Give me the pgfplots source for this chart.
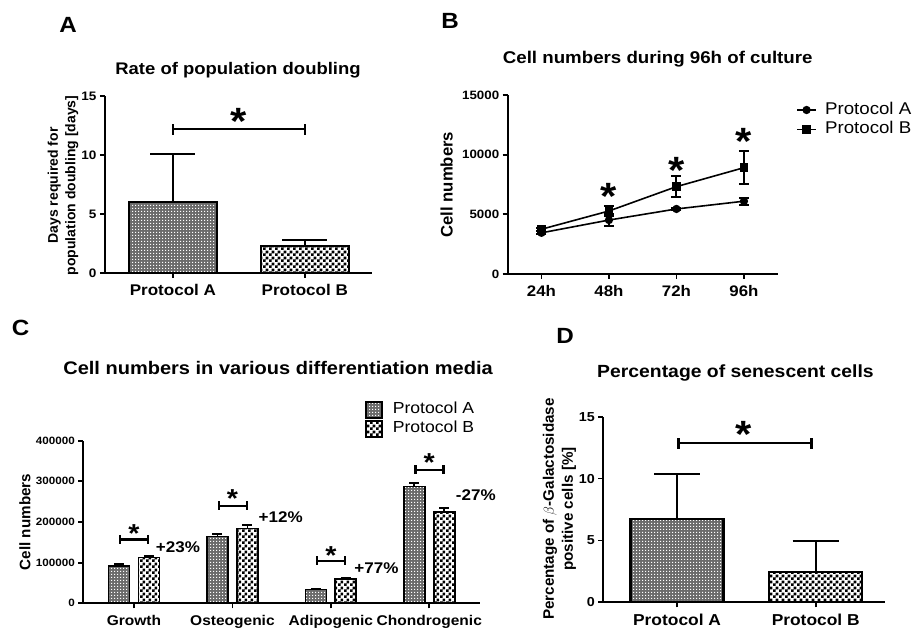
\documentclass[border=0pt]{standalone}
\usepackage{fontspec}
\setmainfont{Liberation Sans}[FakeStretch=1.1]
\newfontfamily\rotfont{Liberation Sans}
\usepackage{pgfplots}
\pgfplotsset{compat=1.18}
\usetikzlibrary{patterns}

\pgfdeclarepatternformonly{patA}{\pgfpointorigin}{\pgfpoint{3pt}{3pt}}{\pgfpoint{3pt}{3pt}}{%
  \pgfpathrectangle{\pgfpointorigin}{\pgfpoint{1.4pt}{1.4pt}}\pgfusepath{fill}}
\pgfdeclarepatternformonly{patB}{\pgfpointorigin}{\pgfpoint{5.6pt}{5.6pt}}{\pgfpoint{5.6pt}{5.6pt}}{%
  \pgfpathrectangle{\pgfpointorigin}{\pgfpoint{2.8pt}{2.8pt}}%
  \pgfpathrectangle{\pgfpoint{2.8pt}{2.8pt}}{\pgfpoint{2.8pt}{2.8pt}}\pgfusepath{fill}}

\pgfplotsset{
  gp/.style={scale only axis, anchor=south west,
    axis x line*=bottom, axis y line*=left,
    tick align=outside, major tick length=5pt, minor tick num=0,
    axis line style={line width=1.8pt, black},
    tick style={line width=1.8pt, black},
    clip=false, xticklabel shift=3pt,
    /pgf/number format/assume math mode=true,
    scaled y ticks=false,
    yticklabel style={/pgf/number format/fixed, /pgf/number format/1000 sep={}},
  },
  barA/.style={ybar, bar shift=0pt, draw=black, line width=#1, fill=black!58,
    postaction={pattern=patA, pattern color=white}},
  barB/.style={ybar, bar shift=0pt, draw=black, line width=#1, fill=white,
    postaction={pattern=patB, pattern color=black}},
  errp/.style 2 args={error bars/.cd, y dir=plus, y explicit,
    error bar style={line width=#1, black}, error mark=|,
    error mark options={line width=#1, mark size=#2, black}, /pgfplots/.cd},
  errb/.style 2 args={error bars/.cd, y dir=both, y explicit,
    error bar style={line width=#1, black}, error mark=|,
    error mark options={line width=#1, mark size=#2, black}, /pgfplots/.cd},
}
\tikzset{
  bigstar/.style={font=\bfseries\fontsize{38}{38}\selectfont, anchor=base, inner sep=0pt, yshift=-21.5pt},
  smallstar/.style={font=\bfseries\fontsize{26}{26}\selectfont, anchor=base, inner sep=0pt, yshift=-14.8pt},
  brk/.style={line width=2.2pt},
  pct/.style={anchor=west, inner sep=0pt, font=\bfseries\fontsize{15.5}{18}\selectfont},
}

\begin{document}
\begin{tikzpicture}[x=1pt,y=1pt]
\useasboundingbox (0,0) rectangle (919,632);

% panel letters
\node[font=\bfseries\fontsize{22}{22}\selectfont, anchor=base] at (68,599.7) {A};
\node[font=\bfseries\fontsize{22}{22}\selectfont, anchor=base] at (450,603.7) {B};
\node[font=\bfseries\fontsize{22}{22}\selectfont, anchor=base] at (20.5,296) {C};
\node[font=\bfseries\fontsize{22}{22}\selectfont, anchor=base] at (565,288.7) {D};

% titles
\node[font=\bfseries\fontsize{16.8}{20}\selectfont, anchor=base] at (238,557) {Rate of population doubling};
\node[font=\bfseries\fontsize{17}{20}\selectfont, anchor=base] at (657.7,568.7) {Cell numbers during 96h of culture};
\node[font=\bfseries\fontsize{18.2}{21}\selectfont, anchor=base] at (278,257) {Cell numbers in various differentiation media};
\node[font=\bfseries\fontsize{17.6}{21}\selectfont, anchor=base] at (735.5,254.7) {Percentage of senescent cells};

% y labels
\node[rotate=90, align=center, font=\rotfont\bfseries\fontsize{14}{17.6}\selectfont] at (63,446.5) {Days required for\\population doubling [days]};
\node[rotate=90, font=\rotfont\bfseries\fontsize{16.7}{20}\selectfont] at (446.7,447.3) {Cell numbers};
\node[rotate=90, font=\rotfont\bfseries\fontsize{15.2}{18}\selectfont] at (25,110) {Cell numbers};
\node[rotate=90, align=center, font=\rotfont\bfseries\fontsize{15.2}{19}\selectfont] at (559.5,123) {Percentage of $\beta$-Galactosidase\\positive cells [\%]};

% ---------------- Panel A ----------------
\begin{axis}[gp, at={(105pt,359pt)}, width=267pt, height=177pt,
  xmin=-0.515, xmax=1.51, ymin=0, ymax=15,
  ytick={0,5,10,15}, xtick={0,1}, xticklabels={Protocol A, Protocol B},
  xticklabel style={font=\bfseries\fontsize{15.5}{18}\selectfont},
  yticklabel style={font=\bfseries\fontsize{12.3}{14}\selectfont}]
\addplot[barA=2.4pt, bar width=0.667, errp={2.2pt}{22.5pt}]
  coordinates {(0,6.0) +- (0,4.1)};
\addplot[barB=2.4pt, bar width=0.667, errp={2.2pt}{22.5pt}]
  coordinates {(1,2.3) +- (0,0.5)};
\draw[brk] (axis cs:0,12.2) -- (axis cs:1,12.2);
\draw[brk] (axis cs:0,12.2) ++(0pt,5pt) -- ++(0pt,-11pt);
\draw[brk] (axis cs:1,12.2) ++(0pt,5pt) -- ++(0pt,-11pt);
\node[bigstar] at (axis cs:0.495,13.6) {*};
\end{axis}

% ---------------- Panel B ----------------
\begin{axis}[gp, at={(507.7pt,358pt)}, width=270pt, height=179pt,
  xmin=-0.5, xmax=3.5, ymin=0, ymax=15000,
  ytick={0,5000,10000,15000}, xtick={0,1,2,3}, xticklabels={24h,48h,72h,96h},
  xticklabel style={font=\bfseries\fontsize{15.3}{18}\selectfont},
  yticklabel style={font=\bfseries\fontsize{12.1}{14}\selectfont},
  legend style={at={(1.068,0.862)}, anchor=west, draw=none, fill=none, inner sep=0pt,
    font=\fontsize{17}{20}\selectfont, row sep=0pt,
    nodes={text height=12pt, text depth=3pt, inner sep=2.2pt}},
  legend cell align=left,
  legend image code/.code={\draw[mark repeat=2, mark phase=2, #1] plot coordinates {(0pt,0pt) (9.5pt,0pt) (19pt,0pt)}; \path (25pt,0pt);}]
\addplot[black, line width=1.6pt, mark=*, mark size=3.3pt, errb={2pt}{5pt}]
  coordinates {(0,3450) +- (0,120) (1,4520) +- (0,480) (2,5450) +- (0,100) (3,6100) +- (0,280)};
\addlegendentry{Protocol A}
\addplot[black, line width=1.6pt, mark=square*, mark size=3.6pt, errb={2pt}{5pt}]
  coordinates {(0,3750) +- (0,120) (1,5280) +- (0,400) (2,7320) +- (0,880) (3,8910) +- (0,1400)};
\addlegendentry{Protocol B}
\node[bigstar] at (axis cs:1,7180) {*};
\node[bigstar] at (axis cs:2,9360) {*};
\node[bigstar] at (axis cs:3,11850) {*};
\end{axis}

% ---------------- Panel C ----------------
\begin{axis}[gp, at={(83.3pt,28.7pt)}, width=396.7pt, height=162.6pt,
  xmin=-0.515, xmax=3.515, ymin=0, ymax=400000,
  ytick={0,100000,200000,300000,400000}, xtick={0,1,2,3},
  xticklabels={Growth,Osteogenic,Adipogenic,Chondrogenic},
  xticklabel style={font=\bfseries\fontsize{14.1}{17}\selectfont},
  yticklabel style={font=\bfseries\fontsize{10.6}{12}\selectfont},
  legend style={at={(0.71,1.25)}, anchor=north west, draw=none, fill=none, inner sep=0pt,
    font=\fontsize{16}{19}\selectfont, row sep=0pt,
    nodes={text height=11.5pt, text depth=3.5pt, inner sep=2pt}},
  legend cell align=left,
  legend image code/.code={\draw[#1] (0pt,-8pt) rectangle (16pt,8pt); \path (24pt,0pt);}]
\addplot[barA=1.7pt, bar width=0.213, errp={1.7pt}{5pt}]
  coordinates {(-0.152,92500) +- (0,3500) (0.848,164000) +- (0,6000) (1.848,34000) +- (0,1500) (2.848,287000) +- (0,9000)};
\addlegendentry{Protocol A}
\addplot[barB=1.7pt, bar width=0.213, errp={1.7pt}{5pt}]
  coordinates {(0.152,113000) +- (0,4000) (1.152,184000) +- (0,8000) (2.152,60000) +- (0,2000) (3.152,224000) +- (0,11000)};
\addlegendentry{Protocol B}
% brackets
\draw[brk] (axis cs:-0.14,157000) -- (axis cs:0.145,157000);
\draw[brk] (axis cs:-0.14,157000) ++(0pt,4.5pt) -- ++(0pt,-9pt);
\draw[brk] (axis cs:0.145,157000) ++(0pt,4.5pt) -- ++(0pt,-9pt);
\draw[brk] (axis cs:0.86,240000) -- (axis cs:1.145,240000);
\draw[brk] (axis cs:0.86,240000) ++(0pt,4.5pt) -- ++(0pt,-9pt);
\draw[brk] (axis cs:1.145,240000) ++(0pt,4.5pt) -- ++(0pt,-9pt);
\draw[brk] (axis cs:1.86,105000) -- (axis cs:2.145,105000);
\draw[brk] (axis cs:1.86,105000) ++(0pt,4.5pt) -- ++(0pt,-9pt);
\draw[brk] (axis cs:2.145,105000) ++(0pt,4.5pt) -- ++(0pt,-9pt);
\draw[brk] (axis cs:2.86,328000) -- (axis cs:3.145,328000);
\draw[brk] (axis cs:2.86,328000) ++(0pt,4.5pt) -- ++(0pt,-9pt);
\draw[brk] (axis cs:3.145,328000) ++(0pt,4.5pt) -- ++(0pt,-9pt);
\node[smallstar] at (axis cs:0,186000) {*};
\node[smallstar] at (axis cs:1,271000) {*};
\node[smallstar] at (axis cs:2,133000) {*};
\node[smallstar] at (axis cs:3,360000) {*};
\node[pct] at (axis cs:0.22,137000) {+23\%};
\node[pct] at (axis cs:1.264,213000) {+12\%};
\node[pct] at (axis cs:2.237,86000) {+77\%};
\node[pct] at (axis cs:3.268,266000) {-27\%};
\end{axis}

% ---------------- Panel D ----------------
\begin{axis}[gp, at={(603.3pt,29.7pt)}, width=281.7pt, height=185.6pt,
  xmin=-0.532, xmax=1.50, ymin=0, ymax=15,
  ytick={0,5,10,15}, xtick={0,1}, xticklabels={Protocol A, Protocol B},
  xticklabel style={font=\bfseries\fontsize{15.8}{18}\selectfont},
  yticklabel style={font=\bfseries\fontsize{13}{15}\selectfont}]
\addplot[barA=2.4pt, bar width=0.67, errp={2.2pt}{23pt}]
  coordinates {(0,6.71) +- (0,3.63)};
\addplot[barB=2.4pt, bar width=0.67, errp={2.2pt}{23pt}]
  coordinates {(1,2.47) +- (0,2.51)};
\draw[brk] (axis cs:0.01,12.85) -- (axis cs:0.97,12.85);
\draw[brk] (axis cs:0.01,12.85) ++(0pt,5pt) -- ++(0pt,-11pt);
\draw[brk] (axis cs:0.97,12.85) ++(0pt,5pt) -- ++(0pt,-11pt);
\node[bigstar] at (axis cs:0.479,14.25) {*};
\end{axis}
\end{tikzpicture}
\end{document}
